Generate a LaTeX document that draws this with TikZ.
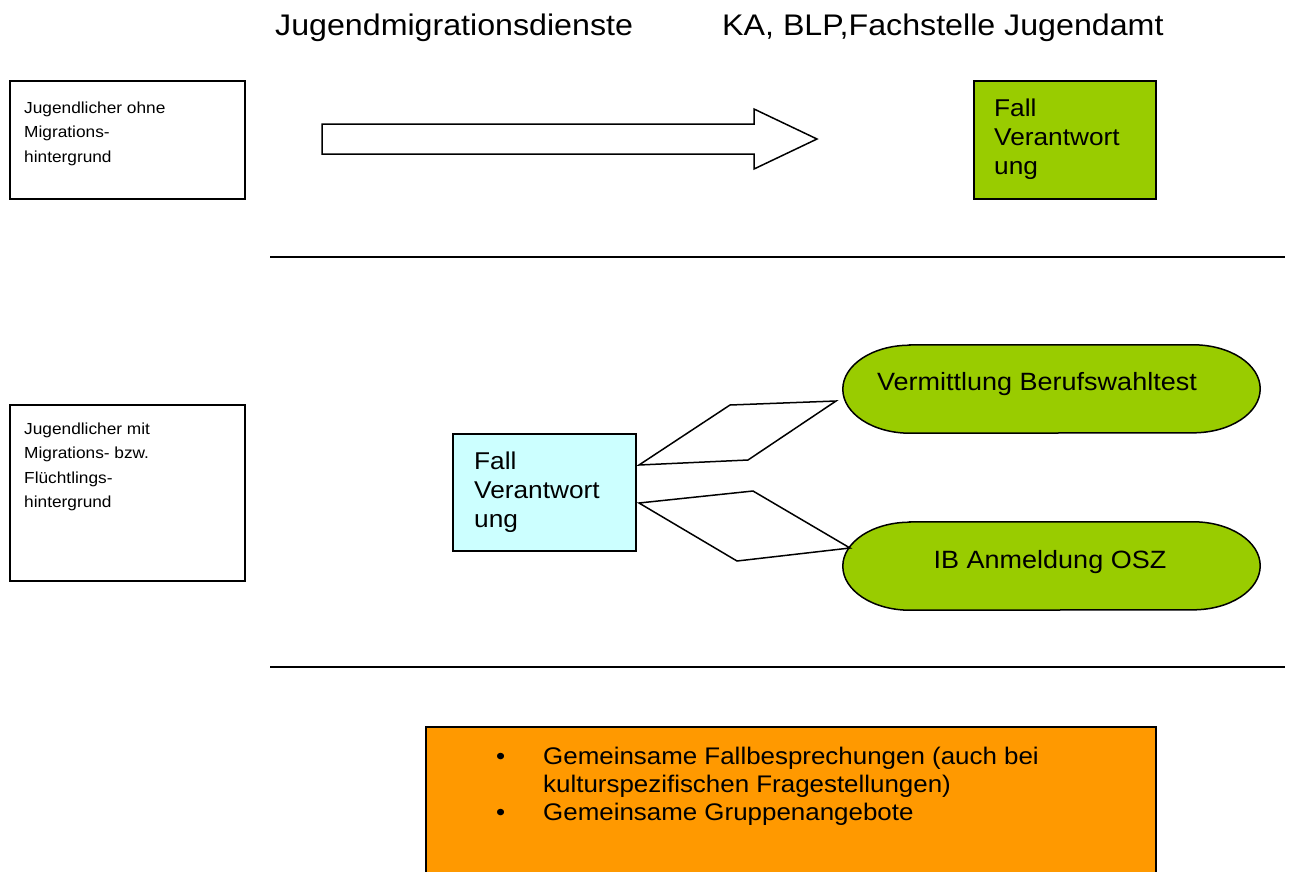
\documentclass[tikz,border=0pt]{standalone}
\usepackage{fontspec}
\setmainfont[FakeStretch=1.08]{Liberation Sans}
\definecolor{mygreen}{HTML}{99CC00}
\definecolor{mycyan}{HTML}{CCFFFF}
\definecolor{myorange}{HTML}{FF9900}
\newcommand\myS{\fontsize{16}{24.5}\selectfont}
\newcommand\myL{\fontsize{24.3}{29}\selectfont}
\newcommand\myE{\fontsize{25}{30}\selectfont}
\newcommand\myO{\fontsize{24}{28}\selectfont}
\newcommand\myT{\fontsize{29.8}{34}\selectfont}
\newcommand\mylines[1]{\begin{tabular}[t]{@{}l@{}}#1\end{tabular}}
\begin{document}
\begin{tikzpicture}[x=1pt,y=-1pt,
  boxline/.style={draw=black, line width=1.8pt, inner sep=0pt, anchor=north west},
  txt/.style={anchor=base west, inner sep=0pt},
  ctxt/.style={anchor=base, inner sep=0pt},
  thin/.style={draw=black, line width=1.5pt, line join=miter},
  termbox/.style={inner sep=0pt, minimum width=417pt, minimum height=88pt},
  termline/.style={draw=black, line width=1.5pt, fill=mygreen}]
\useasboundingbox (0,0) rectangle (1290,871);
% titles
\node[txt, font=\myT] (t1) at (275,35) {Jugendmigrationsdienste};
\node[txt, font=\myT] (t2) at (722,35) {KA, BLP,Fachstelle Jugendamt};
% row 1
\node[boxline, fill=white, minimum width=235pt, minimum height=118pt] (b1) at (9,80) {};
\node[txt, font=\myS] (b1t) at (24,113) {\mylines{Jugendlicher ohne\\Migrations-\\hintergrund}};
\coordinate (a0) at (322,139);
\draw[thin, fill=white] (a0) ++(0,-15) -- ++(432,0) -- ++(0,-15) -- (817,139) -- (754,169) -- ++(0,-15) -- ++(-432,0) -- cycle;
\node[boxline, fill=mygreen, minimum width=182pt, minimum height=118pt] (g1) at (973,80) {};
\node[txt, font=\myL] (g1t) at (994,116) {\mylines{Fall\\Verantwort\\ung}};
% separators
\coordinate (l1a) at (270,257); \coordinate (l1b) at (1285,257);
\coordinate (l2a) at (270,667); \coordinate (l2b) at (1285,667);
\draw[line width=1.6pt] (l1a) -- (l1b);
\draw[line width=1.6pt] (l2a) -- (l2b);
% row 2
\node[boxline, fill=white, minimum width=235pt, minimum height=176pt] (b2) at (9,404) {};
\node[txt, font=\myS] (b2t) at (24,434) {\mylines{Jugendlicher mit\\Migrations- bzw.\\Flüchtlings-\\hintergrund}};
\node[boxline, fill=mycyan, minimum width=183pt, minimum height=117pt] (c1) at (452,433) {};
\node[txt, font=\myL] (c1t) at (474,469) {\mylines{Fall\\Verantwort\\ung}};
% terminator shapes
\node[termbox] (s1) at (1051.5,389) {};
\draw[termline] ([xshift=67pt]s1.north west) -- ([xshift=-67pt]s1.north east)
  arc[start angle=90, end angle=-90, x radius=67pt, y radius=44pt]
  -- ([xshift=67pt]s1.south west)
  arc[start angle=270, end angle=90, x radius=67pt, y radius=44pt] -- cycle;
\node[ctxt, font=\myE] (s1t) at (1037,390) {Vermittlung Berufswahltest};
\node[termbox] (s2) at (1051.5,566) {};
\draw[termline] ([xshift=67pt]s2.north west) -- ([xshift=-67pt]s2.north east)
  arc[start angle=90, end angle=-90, x radius=67pt, y radius=44pt]
  -- ([xshift=67pt]s2.south west)
  arc[start angle=270, end angle=90, x radius=67pt, y radius=44pt] -- cycle;
\node[ctxt, font=\myE] (s2t) at (1050,568) {IB Anmeldung OSZ};
% connectors (parallelograms)
\draw[thin] (639,465) -- (730,405) -- (836,401) -- (748,460) -- cycle;
\draw[thin] (639,503) -- (753,491) -- (850,548) -- (737,561) -- cycle;
% orange box
\fill[myorange] (426,727) rectangle (1156,875);
\draw[line width=1.8pt] (426,875) -- (426,727) -- (1156,727) -- (1156,875);
\node[txt, font=\myO] (ot) at (496,764) {\begin{tabular}[t]{@{}p{47pt}@{}l@{}}\textbullet & Gemeinsame Fallbesprechungen (auch bei\\ & kulturspezifischen Fragestellungen)\\ \textbullet & Gemeinsame Gruppenangebote\end{tabular}};
\end{tikzpicture}
\end{document}
